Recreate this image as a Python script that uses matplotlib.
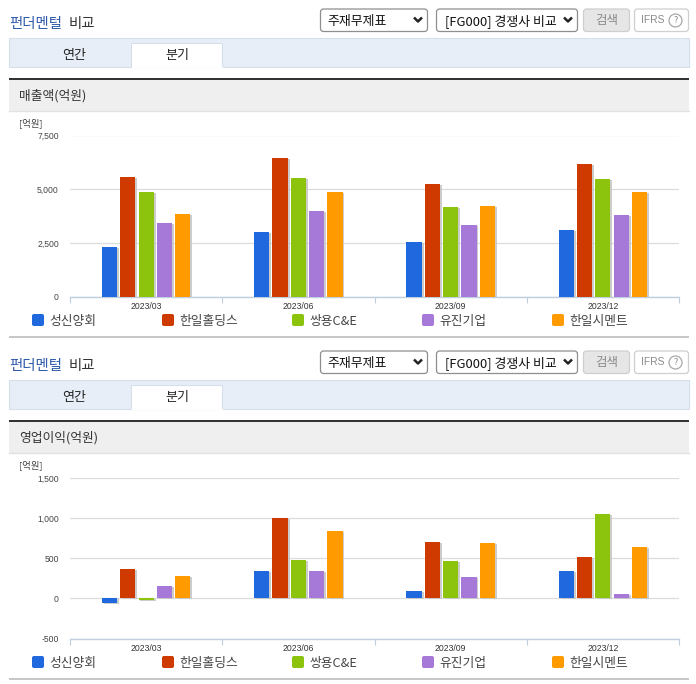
import matplotlib
matplotlib.use('Agg')
import matplotlib.pyplot as plt
import matplotlib.patheffects as pe
from matplotlib.patches import Rectangle, FancyBboxPatch, Circle
import numpy as np

plt.rcParams['font.family'] = ['Noto Sans CJK KR', 'DejaVu Sans']

quarters = ['2023/03', '2023/06', '2023/09', '2023/12']
companies = ['성신양회', '한일홀딩스', '쌍용C&E', '유진기업', '한일시멘트']
colors = ['#1f68de', '#cf3a00', '#8cc30d', '#a678d8', '#ff9a00']

# 매출액 (억원)
sales_shinyang = [2300, 3010, 2530, 3090]
sales_hanil = [5570, 6430, 5230, 6150]
sales_ssangyong = [4860, 5510, 4160, 5460]
sales_eugene = [3430, 3990, 3320, 3790]
sales_cement = [3830, 4860, 4200, 4860]

# 영업이익 (억원)
profit_shinyang = [-55, 336, 96, 336]
profit_hanil = [370, 1005, 706, 519]
profit_ssangyong = [-15, 482, 470, 1055]
profit_eugene = [158, 336, 270, 58]
profit_cement = [274, 843, 694, 644]

sales = [sales_shinyang, sales_hanil, sales_ssangyong, sales_eugene, sales_cement]
profit = [profit_shinyang, profit_hanil, profit_ssangyong, profit_eugene, profit_cement]
sales_ticks = [0, 2500, 5000, 7500]
profit_ticks = [-500, 0, 500, 1000, 1500]

W, H = 696, 684
fig = plt.figure(figsize=(W / 100, H / 100), dpi=100)

# 화면 틀은 픽셀 좌표로 그림
bg = fig.add_axes([0, 0, 1, 1], zorder=0)
bg.set_xlim(0, W)
bg.set_ylim(H, 0)
bg.axis('off')


def rounded(x0, y0, x1, y1, face, edge):
    bg.add_patch(FancyBboxPatch((x0 + 2, y0 + 2), x1 - x0 - 4, y1 - y0 - 4,
                                boxstyle='round,pad=2,rounding_size=3',
                                fc=face, ec=edge, lw=0.9))


def arrow(x, y):
    bg.plot([x - 4, x, x + 4], [y - 2, y + 2, y - 2], color='#222222', lw=1.8,
            solid_capstyle='butt')


def draw_frame(dy, name):
    # 제목
    bg.text(9.5, 24 + dy, '펀더멘털', color='#2f5bab', fontsize=10.4, fontweight='medium',
            va='center', ha='left')
    bg.text(69, 24 + dy, '비교', color='#333333', fontsize=10.4, fontweight='medium',
            va='center', ha='left')

    # 선택 박스, 버튼
    rounded(320.5, 9 + dy, 427.5, 31.5 + dy, 'white', '#8f8f8f')
    bg.text(327, 21 + dy, '주재무제표', color='#111111', fontsize=9.3, va='center')
    arrow(418, 19.5 + dy)
    rounded(436.5, 9 + dy, 577.5, 31.5 + dy, 'white', '#8f8f8f')
    bg.text(445, 21 + dy, '[FG000] 경쟁사 비교', color='#111111', fontsize=9.3, va='center')
    arrow(568, 19.5 + dy)
    rounded(583.5, 9 + dy, 629.5, 31.5 + dy, '#e6e6e6', '#cfcfcf')
    bg.text(606.5, 20.5 + dy, '검색', color='#8a8a8a', fontsize=9, va='center', ha='center')
    rounded(634.5, 9 + dy, 688.5, 31.5 + dy, 'white', '#cfcfcf')
    bg.text(641, 20 + dy, 'IFRS', color='#8a8a8a', fontsize=7.4, va='center',
            family='Liberation Sans')
    bg.add_patch(Circle((675.5, 20.5 + dy), 6.5, fc='white', ec='#a8a8a8', lw=0.9))
    bg.text(675.5, 20.5 + dy, '?', color='#8a8a8a', fontsize=6.5, va='center', ha='center')

    # 탭
    bg.add_patch(Rectangle((9, 38 + dy), 680, 29, fc='#e7eef8', ec='#d6deea', lw=0.8))
    bg.add_patch(Rectangle((131, 43 + dy), 91, 24, fc='white', ec='#d6deea', lw=0.8))
    bg.plot([131.5, 221.5], [67 + dy, 67 + dy], color='white', lw=1)
    bg.text(74, 55 + dy, '연간', color='#222222', fontsize=9.4, va='center', ha='center')
    bg.text(177, 56 + dy, '분기', color='#222222', fontsize=9.4, va='center', ha='center')

    # 차트 제목 띠
    bg.add_patch(Rectangle((9, 78 + dy), 680, 32.5, fc='#efefef', ec='none'))
    bg.add_patch(Rectangle((9, 78 + dy), 680, 2, fc='#333333', ec='none'))
    bg.plot([9, 689], [110.5 + dy, 110.5 + dy], color='#e2e2e2', lw=1)
    bg.text(19, 96 + dy, name, color='#333333', fontsize=9.2, va='center')
    bg.text(19, 123 + dy, '[억원]', color='#444444', fontsize=6.8, va='center')

    # 범례
    for i, (label, c) in enumerate(zip(companies, colors)):
        x = 32 + 130 * i
        bg.add_patch(FancyBboxPatch((x + 1, 315 + dy), 10, 10,
                                    boxstyle='round,pad=1,rounding_size=2', fc=c, ec='none'))
        bg.text(x + 17.5, 321.5 + dy, label, color='#444444', fontsize=9.2, va='center')

    bg.add_patch(Rectangle((9, 336 + dy), 680, 2, fc='#c8c8c8', ec='none'))


def draw_chart(values, ticks, top, bottom):
    ax = fig.add_axes([70 / W, 1 - bottom / H, 609 / W, (bottom - top) / H], zorder=2)
    ax.patch.set_alpha(0)
    shadow = [pe.SimplePatchShadow(offset=(1.3, -0.7), shadow_rgbFace='#c4c4c4', alpha=0.85),
              pe.Normal()]
    x = np.arange(len(quarters))
    for i, (vals, c) in enumerate(zip(values, colors)):
        bars = ax.bar(x + (i - 2) * 0.12, vals, width=0.1, color=c, zorder=3)
        for b in bars:
            b.set_path_effects(shadow)

    ax.set_xlim(-0.5, 3.5)
    ax.set_ylim(ticks[0], ticks[-1])
    ax.set_yticks(ticks)
    ax.set_yticklabels([f'{t:,}' for t in ticks], fontsize=6.2, color='#444444',
                       family='Liberation Sans')
    ax.set_xticks(np.arange(-0.5, 4, 1))
    ax.set_xticklabels([])
    ax.set_xticks(x, minor=True)
    ax.set_xticklabels(quarters, minor=True, fontsize=6.2, color='#333333',
                       family='Liberation Sans')
    ax.tick_params(axis='y', length=0, pad=8)
    ax.tick_params(axis='x', which='major', length=4, width=0.8, color='#c0cfe0')
    ax.tick_params(axis='x', which='minor', length=0, pad=4)
    ax.grid(axis='y', color='#dcdcdc', lw=0.9, zorder=0)
    ax.set_axisbelow(True)
    for s in ['top', 'left', 'right']:
        ax.spines[s].set_visible(False)
    ax.spines['bottom'].set_color('#c0cfe0')
    ax.spines['bottom'].set_linewidth(1)
    return ax


draw_frame(0, '매출액(억원)')
draw_frame(342, '영업이익(억원)')
draw_chart(sales, sales_ticks, 135.5, 296.5)
draw_chart(profit, profit_ticks, 478, 638.5)

fig.savefig('out.png', dpi=100)
